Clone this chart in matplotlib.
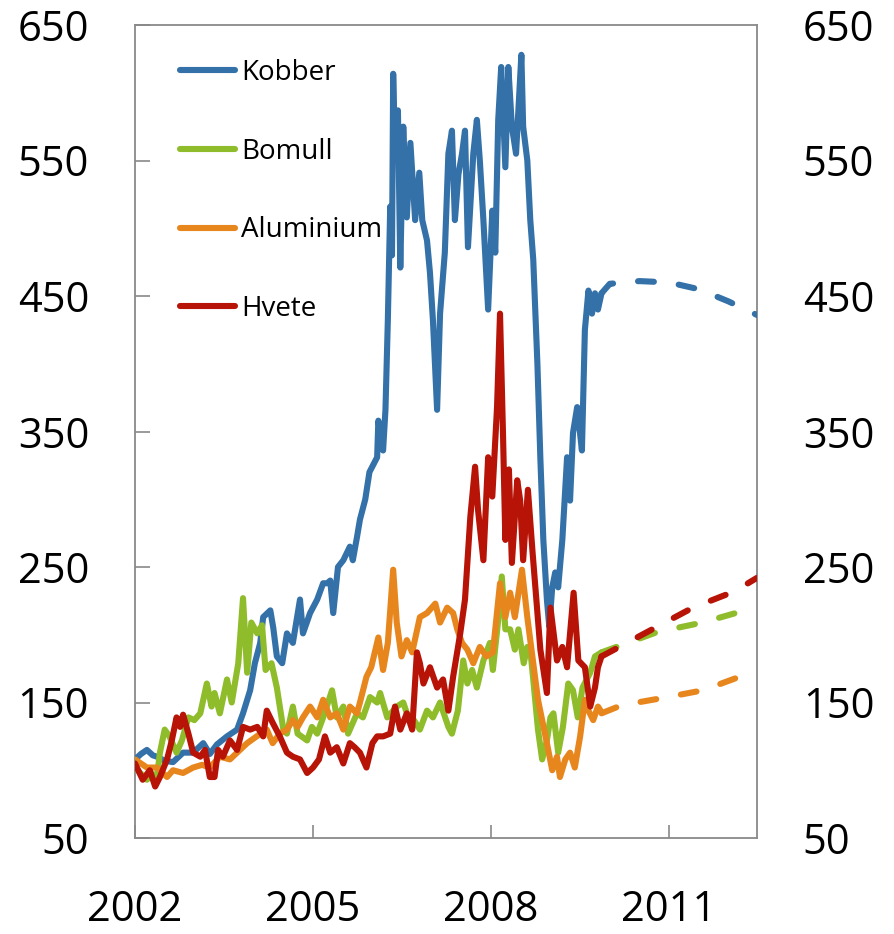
import numpy as np
import matplotlib
matplotlib.use("Agg")
import matplotlib.pyplot as plt

plt.rcParams['font.family'] = ['Open Sans', 'DejaVu Sans']

# ---- data (index) ----
kobber_t = [2002.0, 2002.1, 2002.2, 2002.3, 2002.37, 2002.5, 2002.64, 2002.81, 2002.98, 2003.15,
            2003.26, 2003.38, 2003.55, 2003.72, 2003.82, 2003.94, 2004.02, 2004.11, 2004.16, 2004.28,
            2004.33, 2004.39, 2004.48, 2004.56, 2004.66, 2004.78, 2004.83, 2004.95, 2005.07, 2005.17,
            2005.24, 2005.29, 2005.34, 2005.42, 2005.51, 2005.62, 2005.67, 2005.74, 2005.79, 2005.88,
            2005.95, 2006.08, 2006.10, 2006.18, 2006.22, 2006.26, 2006.30, 2006.33, 2006.35, 2006.38,
            2006.43, 2006.47, 2006.52, 2006.58, 2006.64, 2006.72, 2006.79, 2006.84, 2006.92, 2006.97,
            2007.02, 2007.09, 2007.14, 2007.22, 2007.28, 2007.34, 2007.39, 2007.45, 2007.51, 2007.56,
            2007.61, 2007.70, 2007.76, 2007.81, 2007.87, 2007.95, 2008.02, 2008.07, 2008.12, 2008.17,
            2008.24, 2008.29, 2008.35, 2008.42, 2008.51, 2008.54, 2008.61, 2008.66, 2008.71, 2008.78,
            2008.83, 2008.88, 2008.94, 2008.98, 2009.03, 2009.08, 2009.13, 2009.20, 2009.28, 2009.33,
            2009.38, 2009.45, 2009.53, 2009.58, 2009.64, 2009.70, 2009.75, 2009.80, 2009.86]
kobber_v = [108, 112, 115, 111, 110, 107, 106, 113, 113, 120,
            112, 119, 125, 130, 142, 159, 179, 194, 213, 218,
            205, 184, 179, 201, 194, 226, 201, 216, 226, 238,
            238, 240, 216, 250, 255, 265, 255, 272, 285, 300,
            320, 331, 358, 336, 366, 432, 516, 480, 614, 560,
            587, 471, 575, 508, 563, 506, 541, 506, 491, 467,
            432, 366, 437, 482, 555, 572, 506, 540, 555, 572,
            486, 555, 580, 550, 506, 440, 513, 482, 580, 619,
            545, 619, 575, 555, 628, 575, 550, 506, 477, 400,
            330, 270, 226, 206, 235, 246, 235, 270, 331, 299,
            349, 368, 336, 425, 454, 437, 452, 440, 452]

bomull_t = [2002.0, 2002.2, 2002.3, 2002.37, 2002.42, 2002.5, 2002.58, 2002.7, 2002.79, 2002.9,
            2003.0, 2003.1, 2003.21, 2003.29, 2003.34, 2003.43, 2003.55, 2003.63, 2003.74, 2003.82,
            2003.89, 2003.96, 2004.06, 2004.14, 2004.2, 2004.3, 2004.39, 2004.5, 2004.56, 2004.66,
            2004.74, 2004.9, 2004.98, 2005.07, 2005.17, 2005.32, 2005.4, 2005.51, 2005.59, 2005.74,
            2005.84, 2005.96, 2006.08, 2006.13, 2006.25, 2006.41, 2006.52, 2006.62, 2006.7, 2006.8,
            2006.92, 2007.02, 2007.14, 2007.28, 2007.34, 2007.44, 2007.53, 2007.6, 2007.68, 2007.76,
            2007.87, 2007.98, 2008.03, 2008.12, 2008.18, 2008.24, 2008.32, 2008.4, 2008.46, 2008.55,
            2008.61, 2008.66, 2008.71, 2008.79, 2008.86, 2008.94, 2009.0, 2009.05, 2009.13, 2009.21,
            2009.3, 2009.38, 2009.46, 2009.54, 2009.67, 2009.75, 2009.86]
bomull_v = [102, 93, 97, 95, 113, 130, 125, 113, 122, 139,
            137, 142, 164, 147, 157, 142, 167, 150, 179, 227,
            172, 209, 201, 207, 174, 179, 161, 130, 127, 147,
            127, 122, 132, 127, 139, 159, 139, 147, 127, 142,
            139, 154, 150, 157, 139, 147, 150, 137, 137, 130,
            144, 139, 150, 132, 127, 144, 181, 164, 174, 161,
            181, 194, 174, 211, 243, 204, 204, 189, 204, 179,
            191, 189, 167, 130, 108, 122, 139, 142, 113, 132,
            164, 159, 139, 161, 172, 184, 187]

alu_t = [2002.0, 2002.2, 2002.37, 2002.54, 2002.64, 2002.81, 2002.98, 2003.13, 2003.26, 2003.43,
         2003.6, 2003.72, 2003.89, 2004.05, 2004.22, 2004.32, 2004.44, 2004.56, 2004.66, 2004.74,
         2004.83, 2004.95, 2005.07, 2005.17, 2005.29, 2005.4, 2005.51, 2005.62, 2005.74, 2005.79,
         2005.9, 2005.98, 2006.1, 2006.18, 2006.26, 2006.35, 2006.41, 2006.49, 2006.58, 2006.67,
         2006.8, 2006.92, 2007.06, 2007.14, 2007.26, 2007.36, 2007.43, 2007.51, 2007.6, 2007.7,
         2007.81, 2007.92, 2008.03, 2008.15, 2008.24, 2008.32, 2008.4, 2008.52, 2008.61, 2008.71,
         2008.79, 2008.86, 2008.94, 2009.03, 2009.11, 2009.16, 2009.25, 2009.33, 2009.41, 2009.5,
         2009.58, 2009.64, 2009.72, 2009.8, 2009.86]
alu_v = [108, 102, 102, 95, 100, 98, 102, 104, 102, 110,
         108, 113, 120, 125, 130, 120, 127, 130, 137, 132,
         139, 147, 139, 152, 139, 142, 130, 147, 142, 150,
         169, 176, 198, 174, 194, 248, 209, 184, 196, 187,
         213, 216, 223, 209, 220, 216, 204, 194, 189, 179,
         191, 184, 187, 238, 213, 231, 213, 248, 213, 179,
         152, 137, 120, 100, 110, 95, 108, 113, 102, 125,
         152, 144, 137, 147, 143]

hvete_t = [2002.0, 2002.13, 2002.25, 2002.34, 2002.42, 2002.54, 2002.62, 2002.7, 2002.76, 2002.81,
           2002.9, 2002.98, 2003.1, 2003.18, 2003.26, 2003.34, 2003.4, 2003.48, 2003.6, 2003.72,
           2003.82, 2003.94, 2004.06, 2004.16, 2004.22, 2004.32, 2004.44, 2004.56, 2004.66, 2004.78,
           2004.9, 2005.0, 2005.1, 2005.2, 2005.29, 2005.4, 2005.51, 2005.62, 2005.7, 2005.79,
           2005.9, 2006.0, 2006.08, 2006.18, 2006.3, 2006.38, 2006.47, 2006.58, 2006.67, 2006.75,
           2006.8, 2006.86, 2006.97, 2007.09, 2007.19, 2007.28, 2007.36, 2007.48, 2007.56, 2007.65,
           2007.73, 2007.78, 2007.87, 2007.95, 2008.02, 2008.1, 2008.15, 2008.2, 2008.24, 2008.3,
           2008.35, 2008.44, 2008.49, 2008.54, 2008.62, 2008.7, 2008.83, 2008.94, 2009.0, 2009.11,
           2009.2, 2009.28, 2009.39, 2009.47, 2009.58, 2009.67, 2009.75, 2009.8, 2009.86]
hvete_v = [105, 93, 100, 88, 95, 108, 122, 139, 132, 141,
           127, 113, 110, 115, 95, 95, 115, 110, 122, 115,
           132, 130, 132, 125, 144, 135, 125, 113, 110, 108,
           98, 102, 108, 125, 113, 117, 105, 120, 117, 113,
           102, 120, 125, 125, 127, 147, 130, 142, 130, 187,
           179, 164, 176, 161, 167, 144, 169, 201, 226, 287,
           324, 292, 255, 331, 302, 368, 437, 349, 270, 322,
           253, 314, 299, 255, 307, 260, 189, 157, 220, 181,
           191, 176, 231, 181, 176, 147, 161, 176, 184]

# projections (dashed)
kobber_prog_t = [2009.86, 2010.0, 2010.5, 2011.0, 2011.5, 2012.0, 2012.48]
kobber_prog_v = [452, 459, 461, 460, 455, 446, 436]
bomull_prog_t = [2009.86, 2010.8, 2011.56, 2012.2, 2012.48]
bomull_prog_v = [187, 202, 209, 217, 222]
alu_prog_t = [2009.86, 2010.2, 2010.85, 2011.57, 2012.25, 2012.48]
alu_prog_v = [142, 148, 153, 159, 170, 172]
hvete_prog_t = [2009.86, 2010.8, 2011.4, 2012.1, 2012.48]
hvete_prog_v = [184, 206, 220, 232, 242]

labels = ["Kobber", "Bomull", "Aluminium", "Hvete"]
colors = ["#3471A8", "#8FBC2B", "#E8861E", "#B71306"]

fig = plt.figure(figsize=(8.94, 9.34), dpi=100)
ax = fig.add_axes([135 / 894, 1 - 838 / 934, 622 / 894, 813 / 934])

series = [(kobber_t, kobber_v, kobber_prog_t, kobber_prog_v),
          (bomull_t, bomull_v, bomull_prog_t, bomull_prog_v),
          (alu_t, alu_v, alu_prog_t, alu_prog_v),
          (hvete_t, hvete_v, hvete_prog_t, hvete_prog_v)]

lw = 4.4
for i, (t, v, pt, pv) in enumerate(series):
    ax.plot(t, v, color=colors[i], lw=lw, label=labels[i], zorder=3 + i,
            solid_capstyle='round', solid_joinstyle='round')
    ax.plot(pt, pv, color=colors[i], lw=lw, linestyle=(0, (2.6, 4.1)),
            dash_capstyle='round', zorder=3 + i)

ax.set_xlim(2002, 2012.48)
ax.set_ylim(50, 650)
ax.set_yticks(np.arange(50, 651, 100))
ax.set_xticks([2002, 2005, 2008, 2011])
ax.set_xticklabels(["2002", "2005", "2008", "2011"])

spine_col = "#898989"
for s in ax.spines.values():
    s.set_color(spine_col)
    s.set_linewidth(1.3)

ax.tick_params(axis='x', direction='in', length=9.5, width=1.2, color=spine_col,
               labelsize=30, pad=37)
ax.tick_params(axis='y', direction='in', length=10.5, width=1.2, color=spine_col,
               labelsize=30, pad=33)

ax2 = ax.twinx()
ax2.set_ylim(50, 650)
ax2.set_yticks(np.arange(50, 651, 100))
ax2.tick_params(axis='y', length=0, labelsize=30, pad=33)
for s in ax2.spines.values():
    s.set_visible(False)

leg = ax.legend(loc='upper left', bbox_to_anchor=(0.072, 0.958), frameon=False,
                fontsize=20, handlelength=2.0, handletextpad=0.2,
                labelspacing=1.82, borderpad=0, borderaxespad=0)
for h in leg.get_lines():
    h.set_linewidth(lw)
    h.set_solid_capstyle('round')

fig.savefig("out.png", dpi=100)
